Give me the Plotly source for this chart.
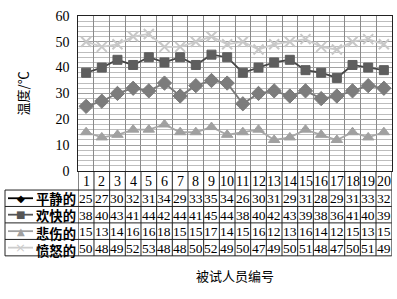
import plotly.graph_objects as go

subjects = list(range(1, 21))
calm = [25, 27, 30, 32, 31, 34, 29, 33, 35, 34, 26, 30, 31, 29, 31, 28, 29, 31, 33, 32]
happy = [38, 40, 43, 41, 44, 42, 44, 41, 45, 44, 38, 40, 42, 43, 39, 38, 36, 41, 40, 39]
sad = [15, 13, 14, 16, 16, 18, 15, 15, 17, 14, 15, 16, 12, 13, 16, 14, 12, 15, 13, 15]
angry = [50, 48, 49, 52, 53, 48, 48, 50, 52, 49, 50, 47, 49, 50, 51, 48, 47, 50, 51, 49]
names = ["平静的", "欢快的", "悲伤的", "愤怒的"]
y_ticks = [0, 10, 20, 30, 40, 50, 60]

W, H = 397, 299
def px_x(p): return p / W
def px_y(p): return 1 - p / H

plot_l, plot_r, plot_t, plot_b = 78.3, 391.7, 9.3, 172.7
row_lines = [192.7, 210.0, 227.3, 244.7, 262.0]
table_left = 5.0
row_h = (row_lines[-1] - row_lines[0]) / 4

styles = [
    dict(symbol="diamond", mcolor="#7c7c7c", lcolor="#7a7a7a", size=11, key_line="#000000", key_marker="#000000", glyph="◆"),
    dict(symbol="square", mcolor="#5e5e5e", lcolor="#454545", size=9, key_line="#555555", key_marker="#555555", glyph="■"),
    dict(symbol="triangle-up", mcolor="#a0a0a0", lcolor="#a8a8a8", size=10, key_line="#a0a0a0", key_marker="#a0a0a0", glyph="▲"),
    dict(symbol="x-thin", mcolor="#c8c8c8", lcolor="#cccccc", size=10, key_line="#cccccc", key_marker="#cccccc", glyph="×"),
]
series = [calm, happy, sad, angry]

fig = go.Figure()
for name, vals, st in zip(names, series, styles):
    fig.add_trace(go.Scatter(
        x=subjects, y=vals, mode="lines+markers", name=name,
        line=dict(color=st["lcolor"], width=1.8),
        marker=dict(symbol=st["symbol"], size=st["size"], color=st["mcolor"],
                    line=dict(color=st["mcolor"], width=2 if st["symbol"] == "x-thin" else 1)),
        showlegend=False,
    ))

shapes = []
annotations = []
for i in range(21):
    xv = i + 0.5
    shapes.append(dict(type="line", xref="x", yref="paper", x0=xv, x1=xv,
                       y0=px_y(plot_b), y1=px_y(row_lines[-1]),
                       line=dict(color="#222222", width=1)))
for r in row_lines:
    shapes.append(dict(type="line", xref="paper", yref="paper", x0=px_x(table_left), x1=px_x(plot_r),
                       y0=px_y(r), y1=px_y(r), line=dict(color="#222222", width=1)))
shapes.append(dict(type="line", xref="paper", yref="paper", x0=px_x(table_left), x1=px_x(table_left),
                   y0=px_y(row_lines[0]), y1=px_y(row_lines[-1]), line=dict(color="#222222", width=1)))

num_font = dict(family="Liberation Serif", size=13.5, color="#000000")
hdr_font = dict(family="Liberation Serif", size=14, color="#000000")
for s in subjects:
    annotations.append(dict(x=s, y=px_y((plot_b + row_lines[0]) / 2 + 0.5), xref="x", yref="paper",
                            text=str(s), showarrow=False, font=hdr_font, xanchor="center", yanchor="middle",
                            borderpad=0))
for k, (name, vals, st) in enumerate(zip(names, series, styles)):
    ymid = (row_lines[k] + row_lines[k + 1]) / 2
    yc = px_y(ymid + 0.5)
    for s, v in zip(subjects, vals):
        annotations.append(dict(x=s, y=yc, xref="x", yref="paper", text=str(v), showarrow=False,
                                font=num_font, xanchor="center", yanchor="middle", borderpad=0))
    shapes.append(dict(type="line", xref="paper", yref="paper", x0=px_x(8), x1=px_x(33),
                       y0=px_y(ymid), y1=px_y(ymid),
                       line=dict(color=st["key_line"], width=1.8)))
    annotations.append(dict(x=px_x(20.5), y=px_y(ymid), xref="paper", yref="paper",
                            text=st["glyph"], showarrow=False, borderpad=0,
                            font=dict(family="DejaVu Sans", size=10 if k < 3 else 13, color=st["key_marker"]),
                            xanchor="center", yanchor="middle"))

annotations.append(dict(x=px_x(77), y=px_y((row_lines[0] + row_lines[-1]) / 2 + 1.5), xref="paper", yref="paper",
                        text="<br>".join("<b>" + n + "</b>" for n in names), align="right",
                        showarrow=False, borderpad=0,
                        font=dict(family="Noto Sans CJK SC", size=row_h / 1.3, color="#000000"),
                        xanchor="right", yanchor="middle"))

annotations.append(dict(x=px_x(22), y=px_y((plot_t + plot_b) / 2), xref="paper", yref="paper",
                        text="温度/℃", textangle=-90, showarrow=False,
                        font=dict(family="Noto Sans CJK SC", size=13, color="#000000"),
                        xanchor="center", yanchor="middle"))
annotations.append(dict(x=px_x((plot_l + plot_r) / 2), y=px_y(283), xref="paper", yref="paper",
                        text="被试人员编号", showarrow=False,
                        font=dict(family="Noto Sans CJK SC", size=13, color="#000000"),
                        xanchor="center", yanchor="middle"))

fig.update_layout(
    width=W, height=H, margin=dict(l=0, r=0, t=0, b=0),
    paper_bgcolor="white", plot_bgcolor="white",
    font=dict(color="#000000"),
    shapes=shapes, annotations=annotations,
    xaxis=dict(domain=[px_x(plot_l), px_x(plot_r)], range=[0.5, 20.5],
               tickmode="linear", tick0=0.5, dtick=1, showticklabels=False,
               showgrid=True, gridcolor="#8a8a8a", gridwidth=1, zeroline=False,
               showline=True, mirror=True, linecolor="#222222", linewidth=1, ticks=""),
    yaxis=dict(domain=[px_y(plot_b), px_y(plot_t)], range=[0, 60],
               tickvals=y_ticks, ticktext=[str(t) for t in y_ticks],
               tickfont=dict(family="Liberation Serif", size=14, color="#000000"),
               showgrid=True, gridcolor="#a0a0a0", gridwidth=1, zeroline=False,
               minor=dict(dtick=2, showgrid=True, gridcolor="#bdbdbd", gridwidth=1),
               showline=True, mirror=True, linecolor="#222222", linewidth=1, ticks="",
               ticklabelstandoff=5),
)

fig.write_html("out.html")
